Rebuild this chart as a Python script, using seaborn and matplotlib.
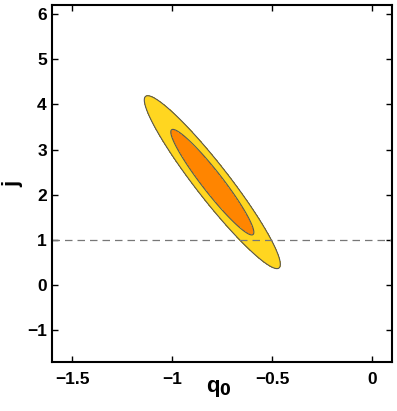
import numpy as np
import matplotlib
matplotlib.use("Agg")
import matplotlib.pyplot as plt
import seaborn as sns

# best fit point and errors
q0_center = -0.80
j_center = 2.28
sigma_q0 = 0.137
sigma_j = 0.77
rho = -0.95
# delta chi2 for 68.3% and 95.4% (2 params)
chi2_levels = [2.30, 6.17]
fill_colors = ["#FF8500", "#FFD620"]
j_ref = 1.0

xticks = [-1.5, -1, -0.5, 0]
xtick_labels = ["\u22121.5", "\u22121", "\u22120.5", "0"]
yticks = [-1, 0, 1, 2, 3, 4, 5, 6]
ytick_labels = ["\u22121", "0", "1", "2", "3", "4", "5", "6"]

sns.set_style("ticks")
plt.rcParams["font.family"] = ["Liberation Sans", "DejaVu Sans"]
plt.rcParams["font.weight"] = "bold"
plt.rcParams["mathtext.default"] = "bf"
plt.rcParams["text.color"] = "black"
plt.rcParams["axes.labelcolor"] = "black"
plt.rcParams["xtick.color"] = "black"
plt.rcParams["ytick.color"] = "black"
plt.rcParams["axes.edgecolor"] = "black"

fig = plt.figure(figsize=(3.97, 4.11), dpi=100)
ax = fig.add_axes([0.132, 0.119, 0.856, 0.869])

q = np.linspace(-1.6, 0.1, 400)
jj = np.linspace(-1.7, 6.2, 500)
Q, J = np.meshgrid(q, jj)
dx = (Q - q0_center) / sigma_q0
dy = (J - j_center) / sigma_j
chi2 = (dx**2 - 2 * rho * dx * dy + dy**2) / (1 - rho**2)

ax.contourf(Q, J, chi2, levels=[0, chi2_levels[0], chi2_levels[1]],
            colors=fill_colors)
ax.contour(Q, J, chi2, levels=chi2_levels, colors="#555555", linewidths=0.8)

ax.axhline(j_ref, color="#777777", lw=0.9, ls=(0, (6, 4)))

ax.set_xlim(-1.6, 0.1)
ax.set_ylim(-1.7, 6.2)
ax.set_xticks(xticks)
ax.set_xticklabels(xtick_labels)
ax.set_yticks(yticks)
ax.set_yticklabels(ytick_labels)
ax.tick_params(direction="in", length=4, width=1, top=True, right=True,
               labelsize=12.5, colors="black")
ax.tick_params(axis="x", pad=7)
ax.tick_params(axis="y", pad=4)
for lab in ax.get_xticklabels() + ax.get_yticklabels():
    lab.set_fontweight("bold")
for s in ax.spines.values():
    s.set_linewidth(1.5)
    s.set_color("black")
    s.set_visible(True)

ax.set_xlabel("q$_\\mathbf{0}$", fontsize=16, fontweight="bold", color="black")
ax.set_ylabel("j", fontsize=16, fontweight="bold", color="black")
ax.xaxis.set_label_coords(0.49, -0.045)
ax.yaxis.set_label_coords(-0.085, 0.5)

fig.savefig("out.png", dpi=100)
